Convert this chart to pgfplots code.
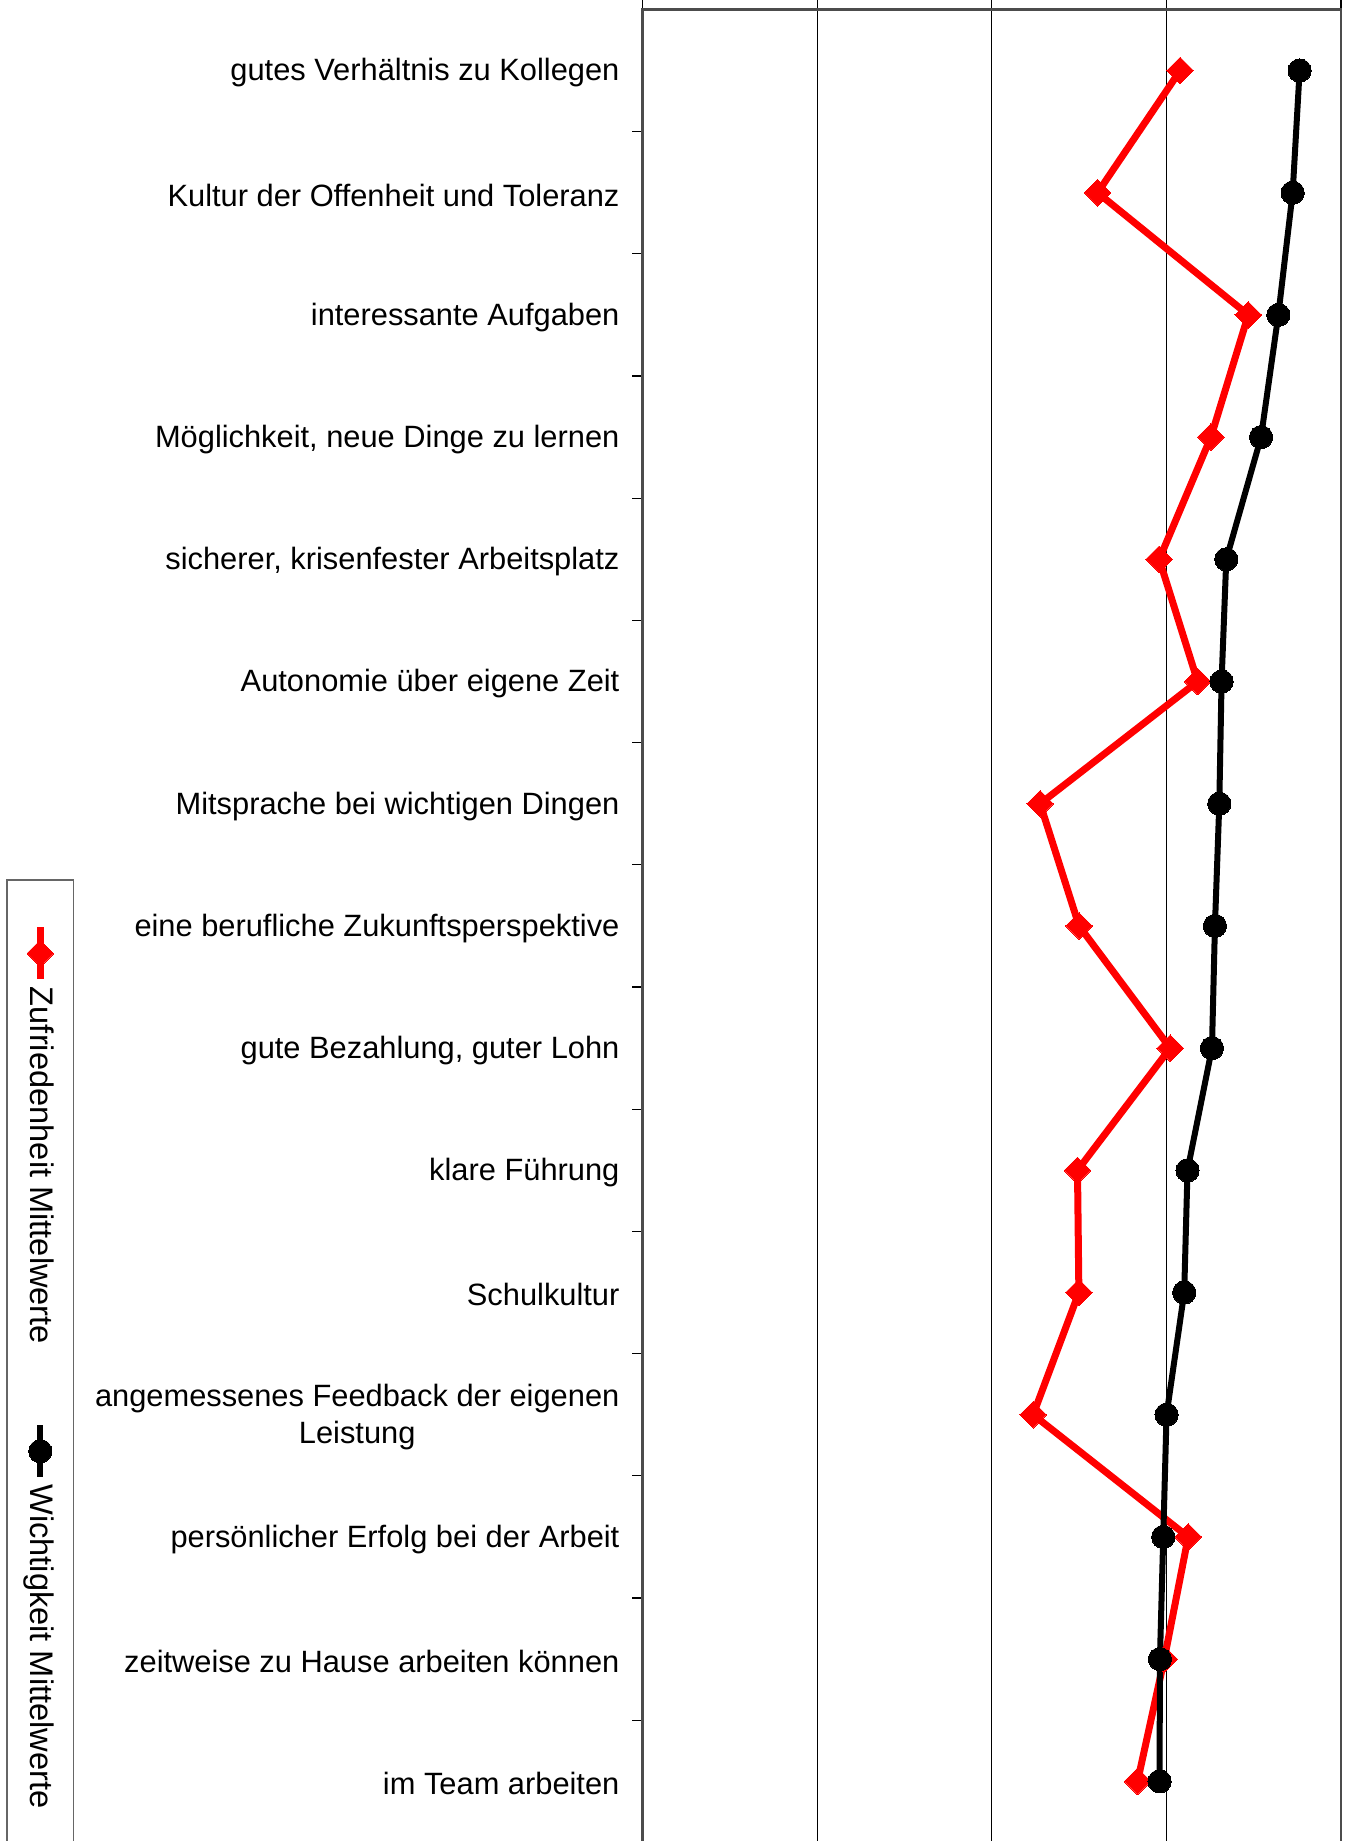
\documentclass[border=0pt]{standalone}
\usepackage{fontspec}
\setmainfont{Liberation Sans}
\usepackage{pgfplots}
\pgfplotsset{compat=1.18}
\begin{document}
\fontsize{15.4pt}{18.8pt}\selectfont
\begin{tikzpicture}
\begin{axis}[
  name=ax,
  at={(0,0)}, anchor=south west,
  width=349pt, height=915.8pt, scale only axis,
  xmin=0, xmax=4, ymin=-0.5, ymax=14.5, y dir=reverse,
  xtick={0,1,2,3,4}, xticklabels={}, xtick pos=upper,
  xmajorgrids=true,
  grid style={black, line width=0.6pt},
  ytick={0,...,14},
  yticklabels={gutes Verhältnis zu Kollegen,
    Kultur der Offenheit und Toleranz,
    interessante Aufgaben,
    {Möglichkeit, neue Dinge zu lernen},
    {sicherer, krisenfester Arbeitsplatz},
    Autonomie über eigene Zeit,
    Mitsprache bei wichtigen Dingen,
    eine berufliche Zukunftsperspektive,
    {gute Bezahlung, guter Lohn},
    klare Führung,
    Schulkultur,
    {angemessenes Feedback der eigenen\\Leistung},
    persönlicher Erfolg bei der Arbeit,
    zeitweise zu Hause arbeiten können,
    im Team arbeiten},
  ytick pos=left,
  minor ytick={0.5,1.5,...,13.5},
  tick align=outside,
  major tick length=4.7pt, minor tick length=5pt,
  every major y tick/.append style={draw=none},
  tick style={black, line width=0.6pt},
  yticklabel style={align=center, anchor=east, xshift=-1.5pt, yshift=-1.2pt},
  axis line style={draw=black!70, line width=1.3pt},
  legend columns=2,
  legend to name=leg,
  legend style={draw=black!60, line width=0.8pt,
    font=\fontsize{16.3pt}{19pt}\selectfont,
    inner xsep=22pt, inner ysep=7.5pt,
    /tikz/every even column/.append style={column sep=37pt}},
  legend image code/.code={\draw[mark repeat=2,mark phase=2,#1] plot coordinates {(0pt,0pt)(13pt,0pt)(26pt,0pt)};},
]
\addplot[red, line width=3.5pt, mark=square*, mark size=4.7pt, mark options={rotate=45, solid, fill=red, draw=red, line width=0pt}]
  coordinates {(3.079,0)(2.606,1)(3.469,2)(3.255,3)(2.959,4)(3.179,5)(2.277,6)(2.500,7)(3.022,8)(2.491,9)(2.499,10)(2.237,11)(3.125,12)(2.988,13)(2.835,14)};
\addlegendentry{Zufriedenheit Mittelwerte}
\addplot[black, line width=3pt, mark=*, mark size=5.8pt, mark options={solid, fill=black, draw=black, line width=0pt}]
  coordinates {(3.763,0)(3.723,1)(3.641,2)(3.542,3)(3.343,4)(3.316,5)(3.303,6)(3.278,7)(3.261,8)(3.121,9)(3.102,10)(3.001,11)(2.982,12)(2.963,13)(2.961,14)};
\addlegendentry{Wichtigkeit Mittelwerte}
\end{axis}
\node[rotate=-90, anchor=south west, inner sep=0pt] at ([xshift=-318pt,yshift=-434.3pt]ax.north west) {\pgfplotslegendfromname{leg}};
\pgfresetboundingbox
\path ([xshift=-321pt,yshift=0.7pt]ax.south west) rectangle ([xshift=2.5pt,yshift=4.7pt]ax.north east);
\end{tikzpicture}
\end{document}
